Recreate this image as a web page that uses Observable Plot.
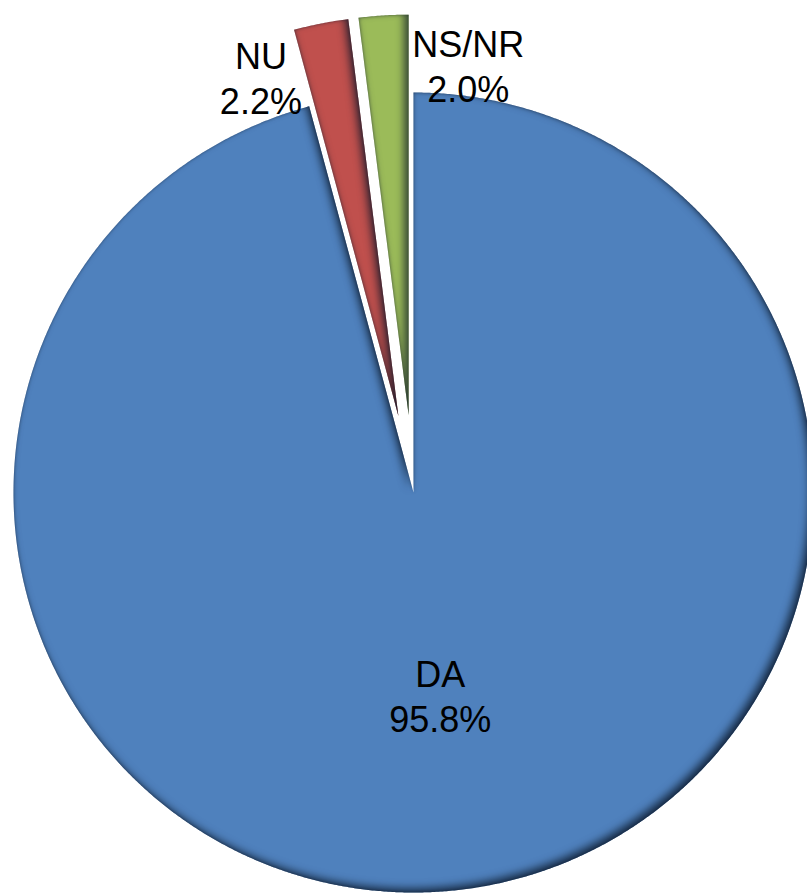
<!DOCTYPE html>
<html><head><meta charset="utf-8">
<script src="https://cdn.jsdelivr.net/npm/d3@7"></script>
<script src="https://cdn.jsdelivr.net/npm/@observablehq/plot@0.6"></script>
<style>body{margin:0;background:#fff} #chart svg{display:block}</style>
</head><body><div id="chart"></div>
<script>
const categories = ["DA", "NU", "NS/NR"];
const values = [95.8, 2.2, 2.0];
const valueLabels = ["95.8%", "2.2%", "2.0%"];
const colors = ["#4F81BD", "#C0504D", "#9BBB59"];

// layout (style) settings
const explode = {"DA": 0, "NU": 0.195, "NS/NR": 0.195};
const labelPos = {"DA": {r: 0.51, da: 0}, "NU": {r: 1.107, da: -9}, "NS/NR": {r: 1.076, da: 10.9}};

const rows = categories.map((c, i) => ({category: c, value: values[i], label: valueLabels[i]}));
const arcs = d3.pie().sort(null).value(d => d.value)(rows);

const pts = [];
const labels = [];
for (const a of arcs) {
  const c = a.data.category;
  const mid = (a.startAngle + a.endAngle) / 2;
  const ox = explode[c] * Math.sin(mid), oy = explode[c] * Math.cos(mid);
  pts.push({category: c, x: ox, y: oy});
  const n = Math.max(12, Math.ceil((a.endAngle - a.startAngle) / 0.005));
  for (let k = 0; k <= n; k++) {
    const t = a.startAngle + (a.endAngle - a.startAngle) * k / n;
    pts.push({category: c, x: ox + Math.sin(t), y: oy + Math.cos(t)});
  }
  pts.push({category: c, x: ox, y: oy});
  const lp = labelPos[c];
  const th = mid + lp.da * Math.PI / 180;
  labels.push({x: lp.r * Math.sin(th), y: lp.r * Math.cos(th), text: c + "\n" + a.data.label});
}

const plot = Plot.plot({
  width: 807, height: 893, margin: 0,
  style: {fontFamily: "Liberation Sans, Arial, sans-serif", background: "white"},
  x: {domain: [-1.0325, 0.985], range: [0, 807], axis: null},
  y: {domain: [-1.0025, 1.23], range: [893, 0], axis: null},
  color: {domain: categories, range: colors},
  marks: [
    Plot.line(pts, {x: "x", y: "y", z: "category", fill: "category", stroke: "none", curve: "linear"}),
    Plot.text(labels, {x: "x", y: "y", text: "text", fontSize: 36, lineHeight: 1.25, fill: "black",
      fontFamily: "Liberation Sans, Arial, sans-serif"})
  ]
});

const s = d3.select(plot);
s.insert("defs", ":first-child").html(`
  <filter id="bevel" x="-15%" y="-15%" width="130%" height="130%" color-interpolation-filters="sRGB">
    <feComponentTransfer in="SourceAlpha" result="inv"><feFuncA type="table" tableValues="1 0"/></feComponentTransfer>
    <feOffset in="inv" dx="-4" dy="-4" result="off"/>
    <feGaussianBlur in="off" stdDeviation="4" result="blur"/>
    <feFlood flood-color="#0a1628" flood-opacity="0.8"/>
    <feComposite in2="blur" operator="in" result="shadow"/>
    <feComposite in="shadow" in2="SourceAlpha" operator="in" result="inner"/>
    <feGaussianBlur in="inv" stdDeviation="1.5" result="blur2"/>
    <feFlood flood-color="#0a1628" flood-opacity="0.45"/>
    <feComposite in2="blur2" operator="in" result="shadow2"/>
    <feComposite in="shadow2" in2="SourceAlpha" operator="in" result="inner2"/>
    <feMerge><feMergeNode in="SourceGraphic"/><feMergeNode in="inner"/><feMergeNode in="inner2"/></feMerge>
  </filter>`);
s.selectAll('g[aria-label="line"] path').attr("filter", "url(#bevel)");

document.getElementById("chart").appendChild(plot);
</script>
</body></html>
